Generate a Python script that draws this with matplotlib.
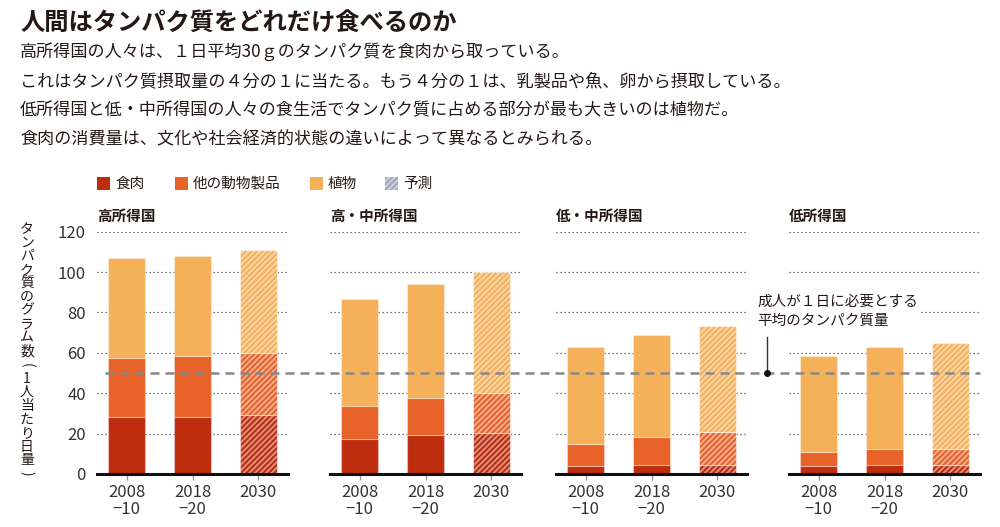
import matplotlib
matplotlib.use('Agg')
import matplotlib.pyplot as plt
from matplotlib.patches import Rectangle
from matplotlib.lines import Line2D
from matplotlib.transforms import blended_transform_factory

plt.rcParams['font.family'] = ['Noto Sans CJK JP', 'DejaVu Sans']
plt.rcParams['hatch.linewidth'] = 1.3

# data (g of protein per person per day)
groups = ['高所得国', '高・中所得国', '低・中所得国', '低所得国']
periods = ['2008\n−10', '2018\n−20', '2030']
meat = [[28.0, 28.4, 29.2], [17.2, 19.4, 20.5], [3.8, 4.5, 4.6], [4.1, 4.5, 4.6]]
other = [[29.3, 30.0, 30.9], [16.5, 18.3, 19.8], [11.1, 13.6, 16.0], [6.8, 8.0, 7.9]]
plant = [[49.5, 49.6, 50.9], [53.1, 56.6, 59.9], [48.1, 50.9, 52.9], [47.7, 50.5, 52.2]]
need = 50
yticks = [0, 20, 40, 60, 80, 100, 120]
legend_labels = ['食肉', '他の動物製品', '植物', '予測']

title = '人間はタンパク質をどれだけ食べるのか'
body = ['高所得国の人々は、１日平均30ｇのタンパク質を食肉から取っている。',
        'これはタンパク質摂取量の４分の１に当たる。もう４分の１は、乳製品や魚、卵から摂取している。',
        '低所得国と低・中所得国の人々の食生活でタンパク質に占める部分が最も大きいのは植物だ。',
        '食肉の消費量は、文化や社会経済的状態の違いによって異なるとみられる。']
ylabel = 'タンパク質のグラム数(1人当たり日量)'
note = '成人が１日に必要とする\n平均のタンパク質量'

c_meat = '#bd2d0e'
c_other = '#e8632a'
c_plant = '#f5b05a'
c_fcst = '#9ea6b8'
txt = '#231815'
edge = (1, 1, 1, 0.35)
hatch_col = (1, 1, 1, 0.5)

W, H = 1000, 527
fig = plt.figure(figsize=(10, 5.27), dpi=100)


def fx(x):
    return x / W


def fy(y):
    return 1 - y / H


lefts = [97, 330, 556, 789]
ax_w = 191
ax_top, ax_bot = 231.7, 474
axes = []
for i, g in enumerate(groups):
    ax = fig.add_axes([fx(lefts[i]), fy(ax_bot), ax_w / W, (ax_bot - ax_top) / H])
    ax.patch.set_visible(False)
    x = list(range(len(periods)))
    for j in x:
        fc = j == len(periods) - 1
        kw = dict(width=0.565, linewidth=0.8, zorder=3)
        if fc:
            kw.update(hatch='//////', edgecolor=hatch_col)
        else:
            kw.update(edgecolor=edge)
        ax.bar(j, meat[i][j], color=c_meat, **kw)
        ax.bar(j, other[i][j], bottom=meat[i][j], color=c_other, **kw)
        ax.bar(j, plant[i][j], bottom=meat[i][j] + other[i][j], color=c_plant, **kw)
    ax.set_xlim(-0.45, 2.45)
    ax.set_ylim(0, 120)
    for v in yticks[1:]:
        ax.axhline(v, color='#444444', lw=0.9, ls=(0, (1, 2.2)), zorder=1)
    for s in ['top', 'right', 'left']:
        ax.spines[s].set_visible(False)
    ax.spines['bottom'].set_linewidth(2.2)
    ax.spines['bottom'].set_color('#111111')
    ax.spines['bottom'].set_zorder(4)
    ax.set_xticks(x)
    ax.set_xticklabels(periods, fontsize=12, color='#333333', linespacing=1.05)
    ax.tick_params(axis='x', length=4, width=1, color='#999999', pad=3)
    ax.set_yticks(yticks)
    if i == 0:
        ax.set_yticklabels([str(v) for v in yticks], fontsize=12, color='#333333')
    else:
        ax.set_yticklabels([])
    ax.tick_params(axis='y', length=0, pad=8)
    fig.text(fx(lefts[i]), fy(216), g, fontsize=10.5, fontweight='bold', color=txt, va='center')
    axes.append(ax)

# reference line for daily need
trans = blended_transform_factory(fig.transFigure, axes[0].transData)
fig.add_artist(Line2D([fx(105), fx(980)], [need, need], transform=trans,
                      color='#888888', lw=1.8, ls=(0, (3.6, 2.4)), zorder=5))
fig.add_artist(Line2D([fx(766.7), fx(766.7)], [need, 68], transform=trans,
                      color='#333333', lw=1.0, zorder=5))
fig.add_artist(Line2D([fx(766.7)], [need], transform=trans, marker='o',
                      markersize=4, color='#111111', zorder=6))
fig.text(fx(757), fy(311), note, fontsize=10.5, color=txt, va='center', ha='left',
         linespacing=1.45, zorder=6,
         bbox=dict(facecolor='white', edgecolor='none', pad=2))

# title and text
fig.text(fx(20), fy(23), title, fontsize=17.5, fontweight='bold', color=txt, va='center')
for k, line in enumerate(body):
    fig.text(fx(20), fy(52 + 29 * k), line, fontsize=12.3, color=txt, va='center')

# vertical y label
for k, ch in enumerate(ylabel):
    rot = -90 if ch in '()' else 0
    fig.text(fx(27), fy(229 + 13.6 * k), ch, fontsize=10, color=txt,
             ha='center', va='center', rotation=rot)

# legend
leg_x = [97, 175, 310, 385]
leg_c = [c_meat, c_other, c_plant, c_fcst]
for k, lab in enumerate(legend_labels):
    r = Rectangle((fx(leg_x[k]), fy(190)), 13 / W, 13 / H, transform=fig.transFigure,
                  facecolor=leg_c[k], edgecolor=hatch_col if k == 3 else 'none',
                  hatch='//////' if k == 3 else None, linewidth=0)
    fig.add_artist(r)
    fig.text(fx(leg_x[k] + 18), fy(183.5), lab, fontsize=10.5, color=txt, va='center')

fig.savefig('out.png', dpi=100, facecolor='white')
